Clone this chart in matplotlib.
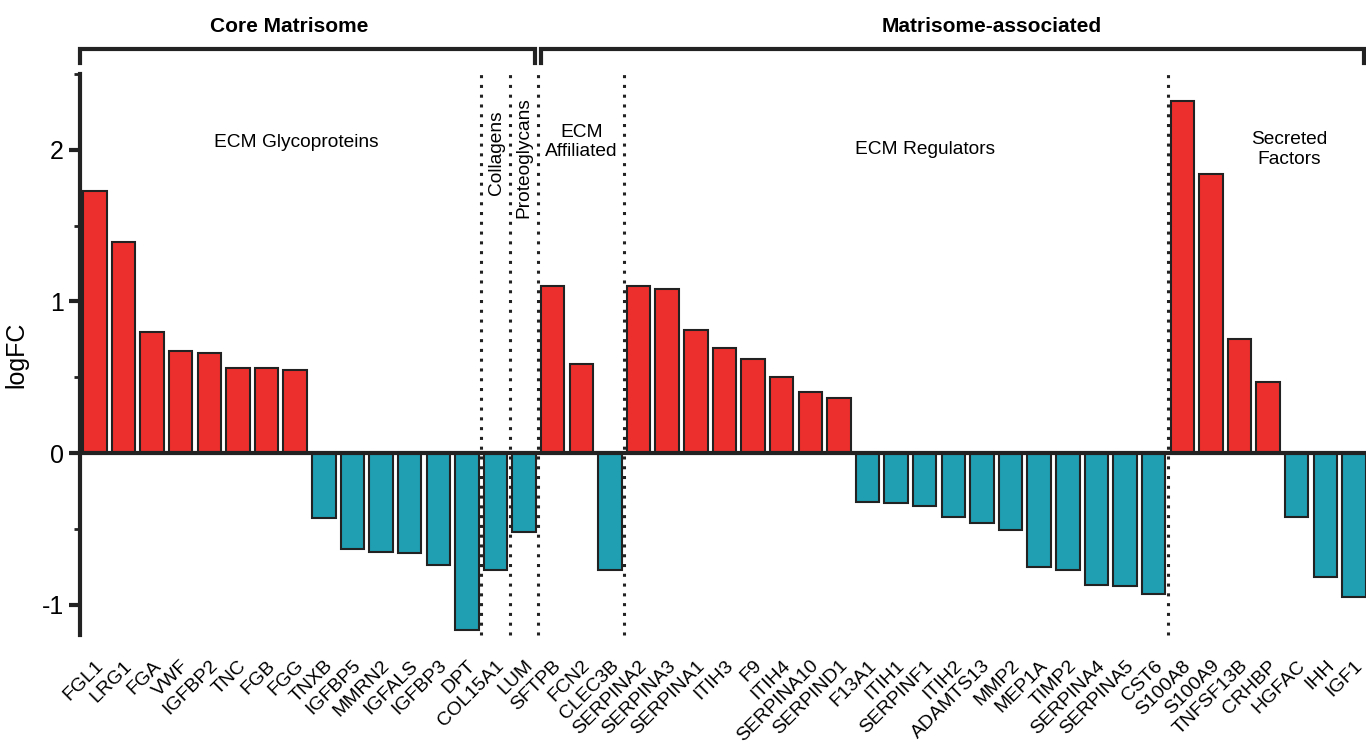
import matplotlib.pyplot as plt
import numpy as np
from matplotlib.ticker import MultipleLocator

plt.rcParams['font.family'] = ['Liberation Sans', 'DejaVu Sans']

genes = ['FGL1', 'LRG1', 'FGA', 'VWF', 'IGFBP2', 'TNC', 'FGB', 'FGG', 'TNXB',
         'IGFBP5', 'MMRN2', 'IGFALS', 'IGFBP3', 'DPT',
         'COL15A1',
         'LUM',
         'SFTPB', 'FCN2', 'CLEC3B',
         'SERPINA2', 'SERPINA3', 'SERPINA1', 'ITIH3', 'F9', 'ITIH4', 'SERPINA10',
         'SERPIND1', 'F13A1', 'ITIH1', 'SERPINF1', 'ITIH2', 'ADAMTS13', 'MMP2',
         'MEP1A', 'TIMP2', 'SERPINA4', 'SERPINA5', 'CST6',
         'S100A8', 'S100A9', 'TNFSF13B', 'CRHBP', 'HGFAC', 'IHH', 'IGF1']

logfc = [1.73, 1.39, 0.80, 0.67, 0.66, 0.56, 0.56, 0.55, -0.43,
         -0.63, -0.65, -0.66, -0.74, -1.17,
         -0.77,
         -0.52,
         1.10, 0.59, -0.77,
         1.10, 1.08, 0.81, 0.69, 0.62, 0.50, 0.40,
         0.36, -0.32, -0.33, -0.35, -0.42, -0.46, -0.51,
         -0.75, -0.77, -0.87, -0.88, -0.93,
         2.32, 1.84, 0.75, 0.47, -0.42, -0.82, -0.95]

# sub-categories and how many genes fall in each
groups = ['ECM Glycoproteins', 'Collagens', 'Proteoglycans', 'ECM\nAffiliated',
          'ECM Regulators', 'Secreted\nFactors']
group_sizes = [14, 1, 1, 3, 19, 7]

red = '#EC2F2D'
teal = '#209EB2'
ink = '#222222'

x = np.arange(len(genes))
vals = np.array(logfc)
colors = [red if v > 0 else teal for v in vals]

fig = plt.figure(figsize=(13.66, 7.47), dpi=100)
ax = fig.add_axes([80 / 1366, 0.15, 1 - 80 / 1366, 0.751])

ax.bar(x, vals, width=0.82, color=colors, edgecolor=ink, linewidth=1.5, zorder=3)

ax.set_xlim(-0.52, 44.42)
ax.set_ylim(-1.2, 2.5)

# zero line and y axis
ax.axhline(0, color=ink, linewidth=3, zorder=4)
for s in ['top', 'right', 'bottom']:
    ax.spines[s].set_visible(False)
ax.spines['left'].set_linewidth(3)
ax.spines['left'].set_color(ink)

ax.set_yticks([-1, 0, 1, 2])
ax.set_yticklabels(['-1', '0', '1', '2'])
ax.yaxis.set_minor_locator(MultipleLocator(0.5))
ax.tick_params(axis='y', which='major', length=8, width=3, labelsize=18, color=ink)
ax.tick_params(axis='y', which='minor', length=4, width=2, color=ink)
ax.set_ylabel('logFC', fontsize=18, labelpad=10)

ax.set_xticks(x)
ax.set_xticklabels(genes, rotation=45, ha='right', rotation_mode='anchor', fontsize=14)
ax.tick_params(axis='x', length=0, pad=16)

# dotted separators between sub-categories
bounds = np.cumsum(group_sizes)[:-1] - 0.5
for b in bounds:
    ax.plot([b, b], [-1.2, 2.5], color=ink, linestyle=(0, (1, 2.2)),
            linewidth=2.2, zorder=5, clip_on=False)

# sub-category labels
gfs = 13.8
ax.text(7.05, 2.05, groups[0], ha='center', va='center', fontsize=gfs)
ax.text(14.03, 1.98, groups[1], ha='center', va='center', fontsize=gfs, rotation=90)
ax.text(15.0, 1.95, groups[2], ha='center', va='center', fontsize=gfs, rotation=90)
ax.text(17.0, 2.05, groups[3], ha='center', va='center', fontsize=gfs, linespacing=1.2)
ax.text(29.0, 2.0, groups[4], ha='center', va='center', fontsize=gfs)
ax.text(41.75, 2.0, groups[5], ha='center', va='center', fontsize=gfs, linespacing=1.2)

# top brackets for the two divisions
def bracket(x0, x1, label, lx):
    ax.plot([x0, x0, x1, x1], [2.575, 2.667, 2.667, 2.575], color=ink,
            linewidth=3, clip_on=False, solid_joinstyle='miter')
    ax.text(lx, 2.81, label, ha='center', va='center', fontsize=15, fontweight='bold')

bracket(-0.52, 15.37, 'Core Matrisome', 6.8)
bracket(15.6, 44.35, 'Matrisome-associated', 31.35)

fig.savefig('out.png', dpi=100)
